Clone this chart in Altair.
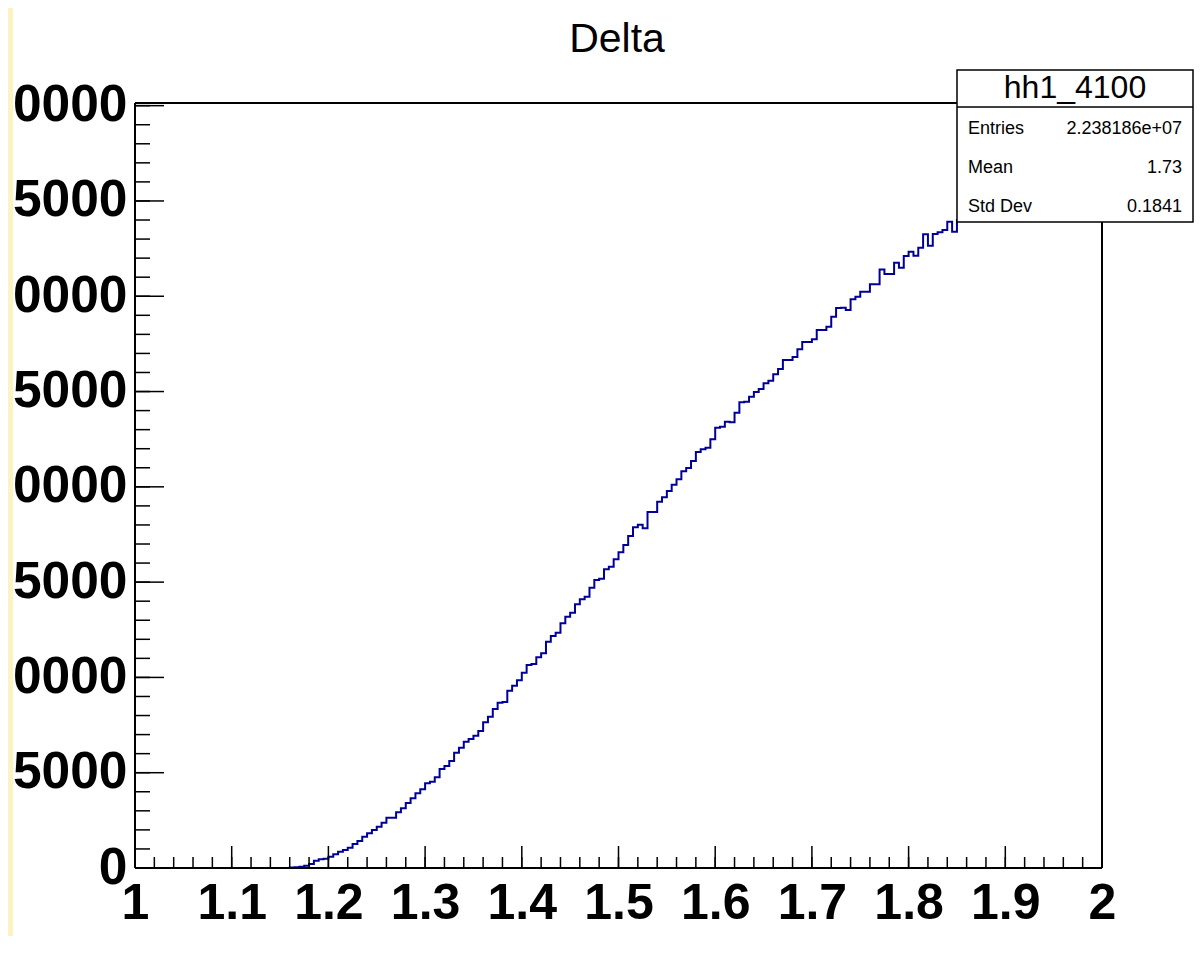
import altair as alt
import pandas as pd

FONT = "Liberation Sans"

# ---- data -------------------------------------------------------------
bin_low = 1.0
bin_width = 0.005
counts = [0] * 32 + [
    20, 40, 70, 120, 210, 380, 455, 490, 595, 720,
    855, 945, 1065, 1260, 1415, 1640, 1820, 1995, 2165, 2375,
    2640, 2640, 2920, 3130, 3410, 3655, 3920, 4130, 4445, 4530,
    4760, 5195, 5350, 5615, 6050, 6310, 6630, 6770, 6940, 7190,
    7645, 7940, 8340, 8675, 8710, 9300, 9565, 9850, 10250, 10650,
    10705, 11055, 11265, 11875, 12175, 12345, 12840, 13185, 13395, 13835,
    14100, 14235, 14710, 15110, 15180, 15670, 15810, 16200, 16565, 16950,
    17420, 17875, 18015, 17825, 18680, 18680, 19220, 19450, 19780, 20110,
    20395, 20815, 20990, 21355, 21830, 21970, 22055, 22495, 23100, 23155,
    23420, 23385, 23890, 24435, 24465, 24730, 24975, 25130, 25430, 25570,
    25905, 26180, 26655, 26655, 26810, 27215, 27600, 27600, 27740, 28230,
    28230, 28400, 28925, 29385, 29400, 29280, 29840, 29975, 30240, 30240,
    30625, 30625, 31410, 31165, 31165, 31760, 31500, 32110, 32340, 32125,
    32545, 33250, 32650, 33265, 33355, 33475, 33910, 33385,
    34000, 34150, 34050, 34400, 34600, 34550, 34850, 35000, 35100, 35300,
    35350, 35550, 35700, 35800, 36000, 36050, 36250, 36400, 36450, 36700,
    36800, 36950, 37100, 37200, 37400, 37500, 37700, 37850, 37950, 38200,
]
x_major = [1.0, 1.1, 1.2, 1.3, 1.4, 1.5, 1.6, 1.7, 1.8, 1.9, 2.0]
x_minor = [round(1.0 + 0.02 * i, 2) for i in range(51)]
y_major = [0, 5000, 10000, 15000, 20000, 25000, 30000, 35000, 40000]
y_minor = [1000 * i for i in range(41)]

hist_title = "Delta"
stats_name = "hh1_4100"
stats_labels = ["Entries", "Mean", "Std Dev"]
stats_values = ["2.238186e+07", "1.73", "0.1841"]

edges = [round(bin_low + bin_width * i, 4) for i in range(len(counts) + 1)]
hist_df = pd.DataFrame({"x": edges, "y": counts + [counts[-1]]})

# ---- layout -----------------------------------------------------------
W, H = 967, 765
xs = alt.Scale(domain=[1, 2], nice=False, zero=False)
ys = alt.Scale(domain=[0, 40140], nice=False, zero=False)

xaxis = alt.Axis(values=x_major, format="~g", labelFont=FONT, labelFontSize=50,
                 labelFontWeight="bold", labelColor="black", ticks=False,
                 domain=False, grid=False, labelPadding=10, labelFlush=False,
                 labelOverlap=False, title=None)
yaxis = alt.Axis(values=y_major, format="d", labelFont=FONT, labelFontSize=51.5,
                 labelFontWeight="bold", labelColor="black", ticks=False,
                 domain=False, grid=False, labelPadding=8, labelFlush=False,
                 labelOverlap=False, labelLimit=400, title=None)

one = pd.DataFrame({"k": [0]})

hist = alt.Chart(hist_df).mark_line(
    interpolate="step-after", color="#000099", strokeWidth=2
).encode(x=alt.X("x:Q", scale=xs, axis=xaxis), y=alt.Y("y:Q", scale=ys, axis=yaxis))

def xticks(vals, length):
    return alt.Chart(pd.DataFrame({"v": vals})).mark_rule(color="black", strokeWidth=1.5).encode(
        x=alt.X("v:Q", scale=xs, axis=xaxis), y=alt.value(H), y2=alt.value(H - length))

def yticks(vals, length):
    return alt.Chart(pd.DataFrame({"w": vals})).mark_rule(color="black", strokeWidth=1.5).encode(
        y=alt.Y("w:Q", scale=ys, axis=yaxis), x=alt.value(0), x2=alt.value(length))

def rule(x1, x2, y1, y2, width=2):
    return alt.Chart(one).mark_rule(color="black", strokeWidth=width).encode(
        x=alt.value(x1), x2=alt.value(x2), y=alt.value(y1), y2=alt.value(y2))

def text(s, x, y, size, align="left", weight="normal"):
    return alt.Chart(pd.DataFrame({"t": [s]})).mark_text(
        font=FONT, fontSize=size, fontWeight=weight, color="black",
        align=align, baseline="alphabetic"
    ).encode(x=alt.value(x), y=alt.value(y), text="t:N")

layers = [
    hist,
    xticks(x_minor, 11), xticks(x_major, 22),
    yticks(y_minor, 15), yticks(y_major, 29),
    rule(0, 0, 0, H), rule(0, W, H, H), rule(0, W, 0, 0), rule(W, W, 0, H),
]

# stats box
BX1, BX2, BY1, BY2 = 822, 1058, -33, 119
layers.append(alt.Chart(one).mark_rect(fill="white", stroke="black", strokeWidth=1.5).encode(
    x=alt.value(BX1), x2=alt.value(BX2), y=alt.value(BY1), y2=alt.value(BY2)))
layers.append(rule(BX1, BX2, 4, 4, 1.5))
layers.append(text(stats_name, (BX1 + BX2) / 2, -5, 32, align="center"))
for i, (lab, val) in enumerate(zip(stats_labels, stats_values)):
    yb = 31 + 38.8 * i
    layers.append(text(lab, 833, yb, 18))
    layers.append(text(val, 1047, yb, 18, align="right"))

# title
layers.append(text(hist_title, 482, -51, 41, align="center"))

# pale canvas edge on the left
layers.append(alt.Chart(one).mark_rect(color="#fdf2c4").encode(
    x=alt.value(-140), x2=alt.value(-122), y=alt.value(-100), y2=alt.value(H + 90)))

chart = alt.layer(*layers).properties(
    width=W, height=H,
    padding={"left": 127, "top": 95, "right": 92, "bottom": 68},
    autosize=alt.AutoSizeParams(type="none"),
    background="white",
).configure_view(stroke=None)

chart.save("out.html", embed_options={"renderer": "svg", "actions": False})
